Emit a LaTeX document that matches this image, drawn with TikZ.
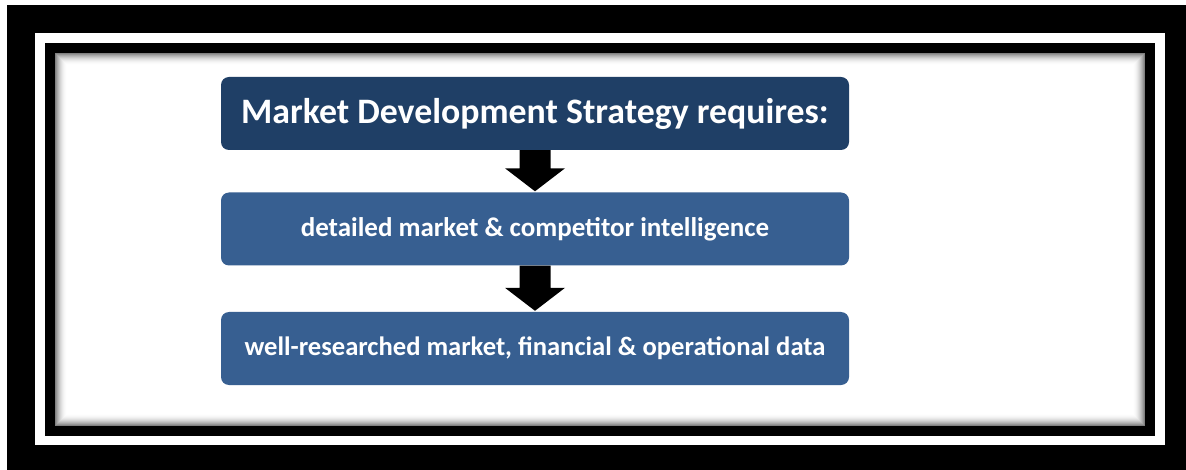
\documentclass[tikz,border=0pt]{standalone}
\usepackage{fontspec}
\setmainfont{Carlito}
\usetikzlibrary{calc}
\definecolor{navy}{HTML}{1F3F66}
\definecolor{midblue}{HTML}{375F91}
\tikzset{
  box/.style={rounded corners=8pt, minimum width=628pt, minimum height=73pt, inner sep=0pt, text=white, font=\bfseries},
  blockarrow/.style={fill=black}
}
\begin{document}
\begin{tikzpicture}[x=1pt,y=-1pt]
\useasboundingbox (0,0) rectangle (1186,470);
\fill[white] (0,0) rectangle (1186,470);
\fill[black] (7,5) rectangle (1186,470);
\fill[white] (35,33) rectangle (1165,445);
\fill[black] (45,43) rectangle (1155,436);
\fill[white] (55,53) rectangle (1145,426);
\foreach \i in {0,...,11}{
  \pgfmathsetmacro{\c}{50*(1-\i/12)^2}
  \draw[black!\c, line width=1pt] (55.5+\i,53.5+\i) rectangle (1144.5-\i,425.5-\i);
}
\node[box, fill=navy, font=\bfseries\fontsize{35.8}{38}\selectfont] (t) at (535,113.5) {Market Development Strategy requires:};
\node[box, fill=midblue, font=\bfseries\fontsize{27}{30}\selectfont] (m) at (535,229) {detailed market \& competitor intelligence};
\node[box, fill=midblue, font=\bfseries\fontsize{26.6}{30}\selectfont] (b) at (535,348.5) {well-researched market, financial \& operational data};
\foreach \u/\v in {t/m, m/b}{
  \fill[blockarrow] ($(\u.south)+(-15.5,0)$) -- ($(\u.south)+(15.5,0)$) -- ($(\v.north)+(15.5,-24)$) -- ($(\v.north)+(30,-24)$) -- ($(\v.north)+(0,-1)$) -- ($(\v.north)+(-30,-24)$) -- ($(\v.north)+(-15.5,-24)$) -- cycle;
}
\end{tikzpicture}
\end{document}
